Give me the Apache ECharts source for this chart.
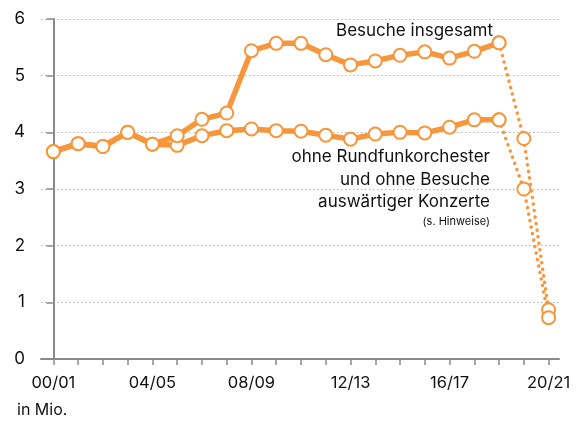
<!DOCTYPE html>
<html>
<head>
<meta charset="utf-8">
<script src="https://cdn.jsdelivr.net/npm/echarts@6/dist/echarts.min.js"></script>
<style>
  html, body { margin: 0; padding: 0; background: #fff; }
  #main { width: 579px; height: 424px; }
</style>
</head>
<body>
<div id="main"></div>
<script>
// Spielzeiten
var seasons = ['00/01', '01/02', '02/03', '03/04', '04/05', '05/06', '06/07', '07/08', '08/09', '09/10',
  '10/11', '11/12', '12/13', '13/14', '14/15', '15/16', '16/17', '17/18', '18/19', '19/20', '20/21'];
// Besuche insgesamt (Mio.)
var total = [3.66, 3.80, 3.75, 4.00, 3.79, 3.94, 4.23, 4.34, 5.44, 5.57,
  5.57, 5.37, 5.19, 5.26, 5.36, 5.42, 5.31, 5.43, 5.58, 3.89, 0.87];
// ohne Rundfunkorchester und ohne Besuche auswärtiger Konzerte
var without = [3.66, 3.80, 3.75, 4.00, 3.79, 3.77, 3.94, 4.03, 4.06, 4.03,
  4.02, 3.95, 3.88, 3.97, 4.00, 3.99, 4.09, 4.22, 4.22, 3.00, 0.73];
var yTicks = [0, 1, 2, 3, 4, 5, 6];
var labelIdx = [0, 4, 8, 12, 16, 20];
var lastSolid = 18; // ab hier gepunktet

var orange = '#f7963a';
var font = 'Inter, "Liberation Sans", sans-serif';

function pts(arr, from, to) {
  var out = [];
  for (var i = from; i <= to; i++) out.push([i, arr[i]]);
  return out;
}

function solid(name, arr) {
  return {
    name: name, type: 'line', z: 5,
    data: pts(arr, 0, lastSolid),
    symbol: 'circle', symbolSize: 13,
    lineStyle: { color: orange, width: 5.5 },
    itemStyle: { color: '#fff', borderColor: orange, borderWidth: 2 },
    emphasis: { disabled: true }
  };
}
function dotted(name, arr) {
  return {
    name: name + ' (Corona)', type: 'line', z: 3,
    data: pts(arr, lastSolid, arr.length - 1),
    symbol: 'circle', symbolSize: 13,
    lineStyle: { color: orange, width: 3.5, type: [0.1, 6.5], cap: 'round' },
    itemStyle: { color: '#fff', borderColor: orange, borderWidth: 2 },
    emphasis: { disabled: true }
  };
}

var myChart = echarts.init(document.getElementById('main'));
var option = {
  animation: false,
  textStyle: { fontFamily: font },
  grid: { left: 41, right: 20, top: 19, bottom: 65 },
  xAxis: {
    type: 'value',
    min: -0.5,
    max: 20.42,
    splitLine: { show: false },
    axisLine: { lineStyle: { color: '#8a8a8a', width: 2 } },
    axisTick: {
      customValues: seasons.map(function (s, i) { return i; }),
      length: 6, lineStyle: { color: '#8a8a8a', width: 1.5 }
    },
    axisLabel: {
      customValues: labelIdx,
      formatter: function (v) { return seasons[v] || ''; },
      color: '#111', fontSize: 16.5, margin: 16, fontFamily: font
    }
  },
  yAxis: {
    type: 'value',
    min: yTicks[0],
    max: yTicks[yTicks.length - 1],
    interval: 1,
    axisLine: { show: true, lineStyle: { color: '#8a8a8a', width: 2 } },
    axisTick: { show: true, length: 7, lineStyle: { color: '#8a8a8a', width: 1.5 } },
    axisLabel: { color: '#111', fontSize: 17, margin: 16, fontFamily: font },
    splitLine: { lineStyle: { color: '#b5b5b5', type: [1.5, 2.5], width: 1 } }
  },
  series: [
    dotted('Besuche insgesamt', total),
    dotted('ohne Rundfunkorchester', without),
    solid('ohne Rundfunkorchester', without),
    solid('Besuche insgesamt', total)
  ],
  graphic: [
    { type: 'text', right: 86, top: 22,
      style: { text: 'Besuche insgesamt', font: '17px ' + font, fill: '#111', textAlign: 'right' } },
    { type: 'text', right: 89, top: 146,
      style: { text: 'ohne Rundfunkorchester\nund ohne Besuche\nauswärtiger Konzerte',
        font: '17px ' + font, lineHeight: 22.5, fill: '#111', textAlign: 'right' } },
    { type: 'text', right: 89, top: 216,
      style: { text: '(s. Hinweise)', font: '11px ' + font, fill: '#111', textAlign: 'right' } },
    { type: 'text', left: 17, top: 402,
      style: { text: 'in Mio.', font: '16px ' + font, fill: '#111' } }
  ]
};
myChart.setOption(option);
window.onresize = myChart.resize;
</script>
</body>
</html>
